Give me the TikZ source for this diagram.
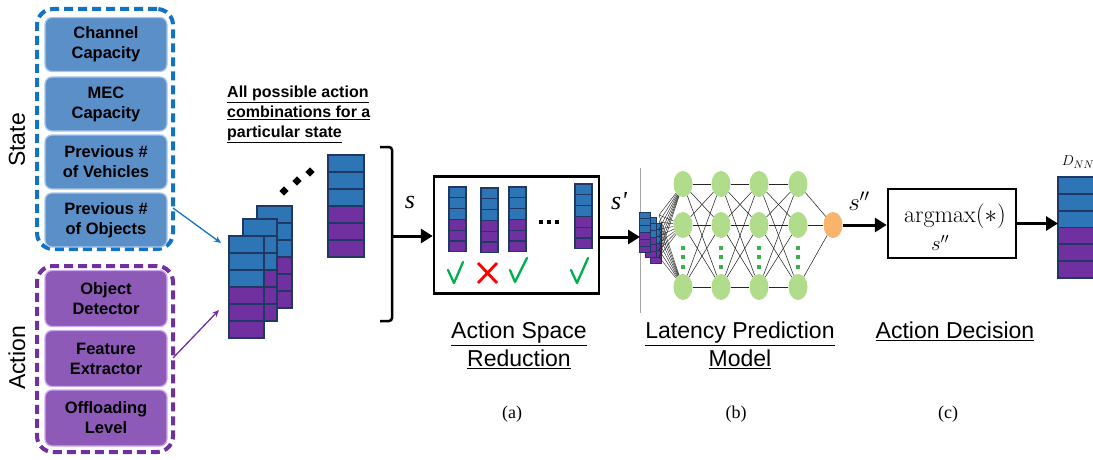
\documentclass[tikz,border=0pt]{standalone}
\usepackage{fontspec}
\newfontfamily\arialf{Liberation Sans}
\newfontfamily\romanf{Liberation Serif}
\usetikzlibrary{shapes.geometric,arrows.meta}

\definecolor{stfill}{HTML}{5A8FC8}
\definecolor{stedge}{HTML}{A7C7EA}
\definecolor{stdash}{HTML}{1273C4}
\definecolor{acfill}{HTML}{8D5AB8}
\definecolor{acedge}{HTML}{CFA8EE}
\definecolor{acdash}{HTML}{7030A0}
\definecolor{cblue}{HTML}{2E75B6}
\definecolor{cpurp}{HTML}{7030A0}
\definecolor{navy}{HTML}{1F3864}
\definecolor{neuron}{HTML}{B0DC8C}
\definecolor{outn}{HTML}{F7B46A}
\definecolor{dotg}{HTML}{3DB04B}
\definecolor{chkg}{HTML}{00B050}

% a column of six cells: three blue above three purple
% #1 left x, #2 top y, #3 width, #4 cell height, #5 line width, #6 name
\newcommand\cellcol[6]{%
  \foreach \k in {0,1,2}{\draw[draw=navy,line width=#5,fill=cblue] (#1,{#2+\k*#4}) rectangle ++(#3,#4);}
  \foreach \k in {3,4,5}{\draw[draw=navy,line width=#5,fill=cpurp] (#1,{#2+\k*#4}) rectangle ++(#3,#4);}
  \node[inner sep=0,outer sep=0,minimum width=#3,minimum height={6*#4},anchor=north west] (#6) at (#1,#2) {};
}

\begin{document}
\begin{tikzpicture}[x=1pt,y=-1pt,
  statebox/.style={draw=stedge,line width=1.3pt,fill=stfill,rounded corners=7pt,
    minimum width=122pt,minimum height=54pt,align=center,inner sep=0pt,
    font=\arialf\bfseries\fontsize{16.5}{20}\selectfont},
  actbox/.style={statebox,draw=acedge,fill=acfill,minimum height=56pt},
  dashframe/.style={draw,dash pattern=on 9pt off 5pt,line width=4pt,rounded corners=16pt,
    minimum width=136pt,inner sep=0pt},
  sidelbl/.style={rotate=90,font=\arialf\fontsize{23}{23}\selectfont},
  thinarrow/.style={line width=1.3pt,-{Stealth[length=7pt,width=6pt]}},
  bigarrow/.style={line width=3pt,-{Triangle[length=12pt,width=14pt]}},
  neur/.style={ellipse,fill=neuron,minimum width=19pt,minimum height=26pt,inner sep=0pt},
  nnedge/.style={line width=0.55pt,black!85},
  chk/.style={chkg,line width=2.3pt,line join=round,line cap=round},
  xmark/.style={red,line width=2.8pt},
  varlbl/.style={font=\romanf\itshape\fontsize{26}{26}\selectfont},
  steplbl/.style={anchor=north,align=center,inner sep=0pt,
    font=\arialf\fontsize{23}{28}\selectfont},
  sublbl/.style={font=\romanf\fontsize{18}{18}\selectfont}
]
\useasboundingbox (0,0) rectangle (1093,460);

% ---------------- state and action inputs ----------------
\node[dashframe,draw=stdash,minimum height=240pt] (statefr) at (105,129) {};
\node[dashframe,draw=acdash,minimum height=186pt] (actfr) at (105,359) {};

\node[statebox] (chan) at (106,44.5) {Channel\\Capacity};
\node[statebox] (mec)  at (106,104) {MEC\\Capacity};
\node[statebox] (veh)  at (106,162) {Previous \#\\of Vehicles};
\node[statebox] (obj)  at (106,220) {Previous \#\\of Objects};

\node[actbox] (det) at (106,298.5) {Object\\Detector};
\node[actbox] (fex) at (106,358.5) {Feature\\Extractor};
\node[actbox] (off) at (106,418) {Offloading\\Level};

\node[sidelbl] (statelbl) at (17,140) {State};
\node[sidelbl] (actlbl) at (17,358) {Action};

% ---------------- all action combinations ----------------
\node[anchor=north west,align=left,inner sep=0pt,
  font=\arialf\bfseries\fontsize{16}{20}\selectfont] (title) at (227,86)
  {\underline{All possible action}\\\underline{combinations for a}\\\underline{particular state}};

\cellcol{257}{206}{35}{17}{1.8pt}{stackC}
\cellcol{243}{219}{34}{17}{1.8pt}{stackB}
\cellcol{229}{236}{35}{17}{1.8pt}{stackA}
\cellcol{328}{155}{36}{17}{1.8pt}{stackN}

\node[fill,minimum size=6.5pt,rotate=45,inner sep=0pt] (dd1) at (284,191) {};
\node[fill,minimum size=6.5pt,rotate=45,inner sep=0pt] (dd2) at (297,181) {};
\node[fill,minimum size=6.5pt,rotate=45,inner sep=0pt] (dd3) at (310,172) {};

\coordinate (stOut) at (173,208);
\coordinate (stIn) at (221,243);
\coordinate (acOut) at (173,358);
\coordinate (acIn) at (219,310);
\draw[thinarrow,stdash] (stOut) -- (stIn);
\draw[thinarrow,acdash] (acOut) -- (acIn);

% bracket collecting the combinations
\coordinate (brT) at (380,147);
\coordinate (brB) at (380,321);
\coordinate (brM) at (392,236);
\draw[line width=2.5pt,rounded corners=3pt] (brT) -- (392,147) -- (392,321) -- (brB);

% ---------------- (a) action space reduction ----------------
\node[draw,line width=2.5pt,minimum width=165pt,minimum height=117pt,inner sep=0pt] (boxA) at (516.5,235) {};
\draw[bigarrow] (brM) -- (brM -| boxA.west);
\node[varlbl] (slbl) at (410,203) {s};

\cellcol{449}{187}{17}{10.8}{1.3pt}{candA}
\cellcol{481}{188}{17}{10.8}{1.3pt}{candB}
\cellcol{509}{187}{17}{10.8}{1.3pt}{candC}
\cellcol{575}{184}{17}{10.8}{1.3pt}{candD}
\fill (539,220) rectangle ++(4,4);
\fill (547,220) rectangle ++(4,4);
\fill (555,220) rectangle ++(4,4);

\draw[chk] (448,270) -- (454,283) -- (463,262);
\draw[xmark] (478,263) -- (497,283) (497,263) -- (478,283);
\draw[chk] (510,270) -- (515,282) -- (527,258);
\draw[chk] (571,270) -- (577,283) -- (588,258);

% ---------------- (b) latency prediction model ----------------
\draw[gray!70,line width=0.6pt] (640,168) -- (640,313);

\cellcol{650}{223}{11}{6.8}{0.8pt}{inC}
\cellcol{645}{217}{11}{6.8}{0.8pt}{inB}
\cellcol{639}{212}{11}{6.8}{0.8pt}{inA}

\draw[bigarrow] (boxA.east |- 0,237) -- (640,237);
\node[varlbl] (sp) at (619,201) {s'};

\foreach \l/\x in {1/683,2/721,3/759,4/798}{
  \foreach \r/\y in {1/184,2/225,3/287}{
    \node[neur] (n\l\r) at (\x,\y) {};
  }
  \foreach \y in {248,257,267}{\fill[dotg] (\x-1.6,\y-1.6) rectangle ++(3.2,3.2);}
}
\node[neur,fill=outn] (out) at (833,225) {};

\foreach \l/\m in {1/2,2/3,3/4}{
  \foreach \r in {1,2,3}{
    \foreach \q in {1,2,3}{\draw[nnedge] (n\l\r) -- (n\m\q);}
  }
}
\foreach \r in {1,2,3}{\draw[nnedge] (n4\r) -- (out);}

\foreach \j in {0,...,6}{
  \coordinate (fan\j) at (659,{215+7*\j});
  \foreach \r in {1,2,3}{\draw[nnedge,line width=0.45pt] (fan\j) -- (n1\r);}
}

% ---------------- (c) action decision ----------------
\node[draw,line width=2.5pt,minimum width=128pt,minimum height=69pt,inner sep=0pt] (amx) at (952,223.5) {};
\node[anchor=base,font=\fontsize{24}{24}\selectfont] (amxtxt) at (955,222) {$\mathrm{argmax}(*)$};
\node[font=\fontsize{21}{21}\selectfont] (amxsub) at (940,243) {$s''$};
\draw[bigarrow] (out.east) -- (out.east -| amx.west);
\node[font=\fontsize{24}{24}\selectfont] (spp) at (859,201) {$s''$};

\cellcol{1058}{177}{45}{16.8}{1.8pt}{dnn}
\draw[bigarrow] (amx.east) -- (amx.east -| dnn.west);
\node[font=\fontsize{15}{15}\selectfont] (dnnlbl) at (1078,162) {$D_{NN}$};

% ---------------- step captions ----------------
\node[steplbl] (capA) at (519,322) {\underline{Action Space}\\\underline{Reduction}};
\node[steplbl] (capB) at (740,322) {\underline{Latency Prediction}\\\underline{Model}};
\node[steplbl] (capC) at (955,322) {\underline{Action Decision}};
\node[sublbl] (subA) at (512,414) {(a)};
\node[sublbl] (subB) at (736,414) {(b)};
\node[sublbl] (subC) at (948,414) {(c)};
\end{tikzpicture}
\end{document}
